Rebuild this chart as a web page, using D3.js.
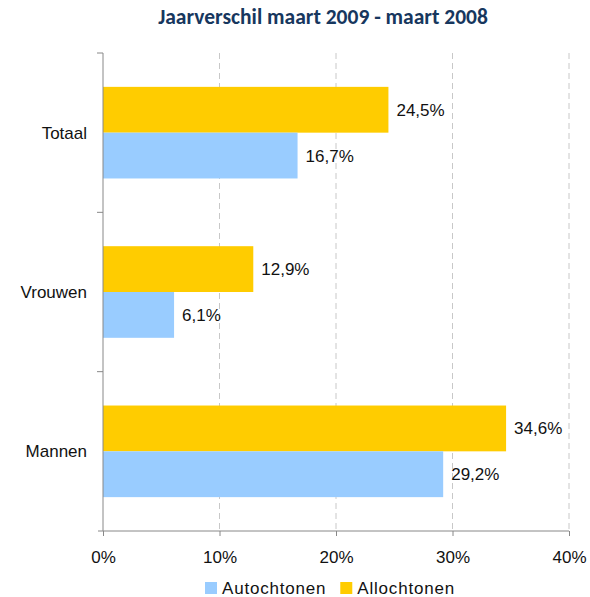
<!DOCTYPE html>
<html>
<head>
<meta charset="utf-8">
<title>Jaarverschil</title>
<script src="https://d3js.org/d3.v7.min.js"></script>
<style>
  body { margin: 0; background: #fff; }
  text { font-family: "Liberation Sans", Arial, sans-serif; fill: #111; }
</style>
</head>
<body>
<script>
const categories = ["Totaal", "Vrouwen", "Mannen"];
const series = ["Allochtonen", "Autochtonen"];
const allochtonen = [24.5, 12.9, 34.6];
const autochtonen = [16.7, 6.1, 29.2];
const ticks = [0, 10, 20, 30, 40];
const legendOrder = ["Autochtonen", "Allochtonen"];

const colors = { Autochtonen: "#99ccff", Allochtonen: "#ffcc00" };
const values = { Allochtonen: allochtonen, Autochtonen: autochtonen };

const width = 590, height = 597;
const margin = { top: 53, right: 20, bottom: 66, left: 103 };
const fs = "17px";

const svg = d3.select("body").append("svg")
  .attr("width", width).attr("height", height);

svg.append("text")
  .attr("x", 323).attr("y", 24)
  .attr("text-anchor", "middle")
  .style("font-family", "Carlito, Lato, sans-serif")
  .style("font-weight", "bold")
  .style("font-size", "21.5px")
  .style("fill", "#17375e")
  .text("Jaarverschil maart 2009 - maart 2008");

const x = d3.scaleLinear().domain([0, 40]).range([margin.left, 569]);
const y = d3.scaleBand().domain(categories).range([margin.top, 531]).paddingInner(0.425).paddingOuter(0.2125);
const ySub = d3.scaleBand().domain(series).range([0, y.bandwidth()]);

// gridlines
svg.append("g").selectAll("line")
  .data(ticks.slice(1))
  .join("line")
  .attr("x1", d => x(d)).attr("x2", d => x(d))
  .attr("y1", margin.top).attr("y2", 531)
  .attr("stroke", "#c8c8c8")
  .attr("stroke-dasharray", "6,4");

// bars
const groups = svg.append("g").selectAll("g")
  .data(categories)
  .join("g")
  .attr("transform", d => `translate(0,${y(d)})`);

series.forEach(s => {
  groups.append("rect")
    .attr("x", x(0))
    .attr("y", ySub(s))
    .attr("width", (d, i) => x(values[s][i]) - x(0))
    .attr("height", ySub.bandwidth())
    .attr("fill", colors[s]);
  groups.append("text")
    .attr("x", (d, i) => x(values[s][i]) + 8)
    .attr("y", ySub(s) + ySub.bandwidth() / 2)
    .attr("dy", "0.35em")
    .style("font-size", fs)
    .text((d, i) => values[s][i].toFixed(1).replace(".", ",") + "%");
});

// x axis
const xAxis = svg.append("g")
  .attr("transform", "translate(0,531)")
  .call(d3.axisBottom(x).tickValues(ticks).tickFormat(d => d + "%").tickSize(5).tickPadding(15));
xAxis.select(".domain").attr("stroke", "#888").attr("d", `M${margin.left - 5},0H569`);
xAxis.selectAll(".tick line").attr("stroke", "#888");
xAxis.selectAll(".tick text").style("font-size", fs).attr("fill", "#111");

// y axis
const yAxisG = svg.append("g").attr("transform", `translate(${margin.left},0)`);
yAxisG.append("line")
  .attr("x1", 0).attr("x2", 0).attr("y1", margin.top).attr("y2", 531)
  .attr("stroke", "#888");
const bounds = [margin.top, 531 - (531 - margin.top) * 2 / 3, 531 - (531 - margin.top) / 3];
yAxisG.selectAll(".yt").data(bounds).join("line")
  .attr("x1", -6).attr("x2", 0).attr("y1", d => d).attr("y2", d => d)
  .attr("stroke", "#888");
yAxisG.selectAll(".cat").data(categories).join("text")
  .attr("x", -16)
  .attr("y", d => y(d) + y.bandwidth() / 2)
  .attr("dy", "0.35em")
  .attr("text-anchor", "end")
  .style("font-size", fs)
  .text(d => d);

// legend
const legend = svg.append("g").attr("transform", "translate(205,582)");
let lx = 0;
legendOrder.forEach(s => {
  legend.append("rect").attr("x", lx).attr("y", 0).attr("width", 12).attr("height", 12).attr("fill", colors[s]);
  const t = legend.append("text").attr("x", lx + 17).attr("y", 12)
    .style("font-size", fs).style("letter-spacing", "0.8px").text(s);
  lx += 17 + t.node().getComputedTextLength() + 14;
});
</script>
</body>
</html>
